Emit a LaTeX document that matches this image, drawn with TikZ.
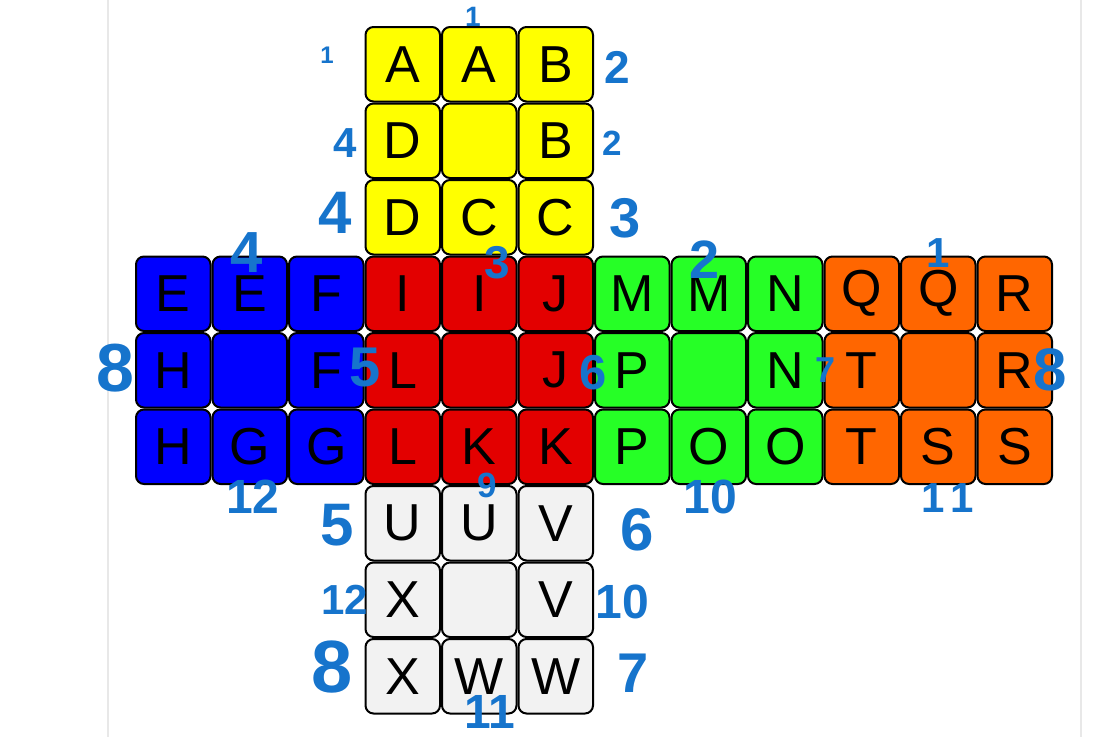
\documentclass[tikz,border=0pt]{standalone}
\usepackage{fontspec}
\setmainfont{Liberation Sans}
\newfontfamily\handfont{Liberation Sans}
\definecolor{cY}{HTML}{FFFF00}
\definecolor{cB}{HTML}{0000FF}
\definecolor{cR}{HTML}{E30000}
\definecolor{cG}{HTML}{26FF26}
\definecolor{cO}{HTML}{FF6600}
\definecolor{cW}{HTML}{F2F2F2}
\definecolor{ink}{HTML}{1674CC}
\definecolor{pageline}{HTML}{E8E8E8}
\tikzset{
  cell/.style={draw=black, line width=2pt, rounded corners=8pt, minimum width=74.5pt, minimum height=74.5pt, inner sep=0pt, font=\fontsize{52}{52}\selectfont, text=black},
  note/.style={text=ink, inner sep=0pt, font=\handfont\bfseries}
}
\begin{document}
\begin{tikzpicture}[x=1pt,y=-1pt]
\useasboundingbox[fill=white] (0,0) rectangle (1116,737);
\draw[pageline, line width=1.5pt] (108,0) -- (108,737);
\draw[pageline, line width=1.5pt] (1081,0) -- (1081,737);
\foreach \c/\r/\col/\t in {
  3/0/cY/A, 4/0/cY/A, 5/0/cY/B,
  3/1/cY/D, 4/1/cY/{}, 5/1/cY/B,
  3/2/cY/D, 4/2/cY/C, 5/2/cY/C,
  0/3/cB/E, 1/3/cB/E, 2/3/cB/F,
  0/4/cB/H, 1/4/cB/{}, 2/4/cB/F,
  0/5/cB/H, 1/5/cB/G, 2/5/cB/G,
  3/3/cR/I, 4/3/cR/I, 5/3/cR/J,
  3/4/cR/L, 4/4/cR/{}, 5/4/cR/J,
  3/5/cR/L, 4/5/cR/K, 5/5/cR/K,
  6/3/cG/M, 7/3/cG/M, 8/3/cG/N,
  6/4/cG/P, 7/4/cG/{}, 8/4/cG/N,
  6/5/cG/P, 7/5/cG/O, 8/5/cG/O,
  9/3/cO/Q, 10/3/cO/Q, 11/3/cO/R,
  9/4/cO/T, 10/4/cO/{}, 11/4/cO/R,
  9/5/cO/T, 10/5/cO/S, 11/5/cO/S,
  3/6/cW/U, 4/6/cW/U, 5/6/cW/V,
  3/7/cW/X, 4/7/cW/{}, 5/7/cW/V,
  3/8/cW/X, 4/8/cW/W, 5/8/cW/W}
{
  \node[cell, fill=\col] (c-\c-\r) at ({135+76.5*\c+38.25},{26+76.5*\r+38.25}) {\raisebox{-2pt}{\t}};
}
\foreach \x/\y/\t/\s [count=\i] in {
  473/17/1/28, 327/55/1/24, 617/67/2/46, 345/143/4/42, 612/143/2/35,
  335/213/4/60, 625/218/3/56, 497/263/3/46, 247/253/4/58, 115/368/8/68,
  365/368/5/56, 253/497/12/48, 337/525/5/60, 705/260/2/54, 938/253/1/42,
  593/373/6/49, 825/370/7/36, 1050/370/8/60, 710/497/10/48, 933/498/1/42,
  962/498/1/42, 487/485/9/35, 637/530/6/60, 345/600/12/42, 622/602/10/48,
  332/667/8/74, 633/673/7/56, 490/712/11/48}
{
  \node[note, font=\handfont\bfseries\fontsize{\s}{\s}\selectfont] (n\i) at (\x,\y) {\t};
}
\end{tikzpicture}
\end{document}
